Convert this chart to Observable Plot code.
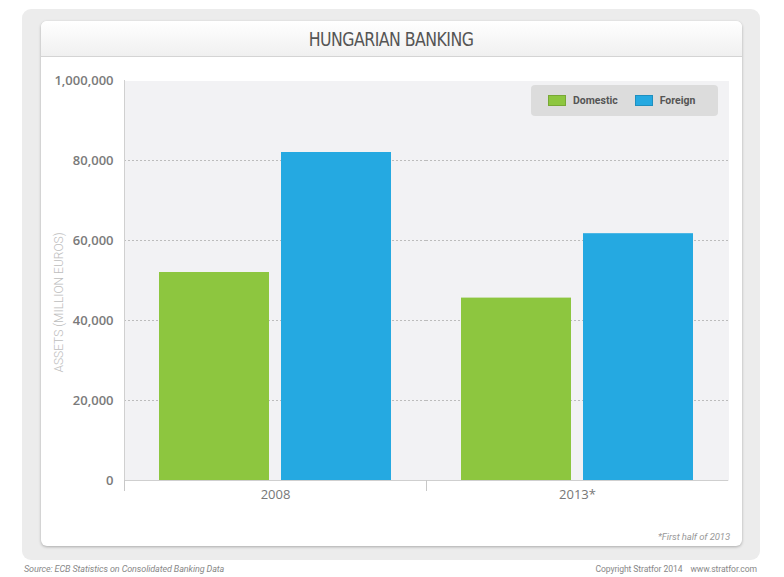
<!DOCTYPE html>
<html>
<head>
<meta charset="utf-8">
<script src="https://cdn.jsdelivr.net/npm/d3@7"></script>
<script src="https://cdn.jsdelivr.net/npm/@observablehq/plot@0.6"></script>
<style>
  html, body { margin: 0; padding: 0; background: #fff; width: 784px; height: 577px; overflow: hidden; font-family: "Open Sans", sans-serif; }
  #outer { position: absolute; left: 22px; top: 9px; width: 738px; height: 551px; background: #ececec; border-radius: 9px; }
  #card { position: absolute; left: 41px; top: 21px; width: 701px; height: 525px; background: #fff; border-radius: 6px; box-shadow: 0 1px 3px rgba(0,0,0,0.28); }
  #header { position: absolute; left: 41px; top: 21px; width: 701px; height: 35px; border-bottom: 1px solid #d4d4d4; background: linear-gradient(#ffffff, #f0f0f0); border-radius: 6px 6px 0 0; text-align: center; }
  #header h1 { display: inline-block; margin: 0; font: normal 20px/36px "DejaVu Sans Condensed", "DejaVu Sans", sans-serif; font-stretch: condensed; color: #555; letter-spacing: -0.6px; transform: scaleX(0.875); }
  #chart { position: absolute; left: 0; top: 0; }
  #legend { position: absolute; left: 531px; top: 85px; width: 187px; height: 31px; background: #dcdcdc; border-radius: 4px; box-sizing: border-box; padding-left: 17px; display: flex; align-items: center; font: bold 10.5px "Roboto", sans-serif; color: #555; }
  #legend .item { display: inline-flex; align-items: center; margin-right: 17px; white-space: nowrap; }
  #legend .sw { display: inline-block; width: 18px; height: 11px; margin-right: 7px; box-sizing: border-box; border: 1px solid rgba(0,0,0,0.15); }
  #note { position: absolute; right: 54px; top: 531px; font: italic 9.5px "Roboto", sans-serif; color: #999; letter-spacing: -0.1px; }
  #source { position: absolute; left: 24px; top: 564px; font: italic 9px "Roboto", sans-serif; color: #888; letter-spacing: -0.1px; }
  #copy { position: absolute; right: 27px; top: 564px; font: 8.6px "Roboto", sans-serif; color: #888; letter-spacing: -0.1px; }
</style>
</head>
<body>
<div id="outer"></div>
<div id="card"></div>
<div id="header"><h1>HUNGARIAN BANKING</h1></div>
<div id="chart"></div>
<div id="legend"></div>
<div id="note">*First half of 2013</div>
<div id="source">Source: ECB Statistics on Consolidated Banking Data</div>
<div id="copy">Copyright Stratfor 2014&nbsp;&nbsp;&nbsp; www.stratfor.com</div>
<script>
// ---- data ----
const years = ["2008", "2013*"];
const series = ["Domestic", "Foreign"];
const domestic = [52000, 45600];
const foreign = [82000, 61700];
const colors = ["#8dc63f", "#25a9e1"];
const yTicks = [0, 20000, 40000, 60000, 80000, 100000];
const yTickLabels = ["0", "20,000", "40,000", "60,000", "80,000", "1,000,000"];
const gridTicks = [20000, 40000, 60000, 80000];
const yTitle = "ASSETS (MILLION EUROS)";

const rows = [];
years.forEach((yr, i) => {
  rows.push({year: yr, series: "Domestic", value: domestic[i]});
  rows.push({year: yr, series: "Foreign", value: foreign[i]});
});
const labelMap = new Map(yTicks.map((t, i) => [t, yTickLabels[i]]));

const chart = Plot.plot({
  width: 784,
  height: 505,
  marginLeft: 123,
  marginRight: 56,
  marginTop: 80,
  marginBottom: 25,
  style: {background: "transparent", fontFamily: "'Open Sans', sans-serif", overflow: "visible"},
  fx: {domain: years, padding: 0},
  x: {domain: series, paddingInner: 0.098, paddingOuter: 0.28, axis: null},
  y: {domain: [0, 100000]},
  color: {domain: series, range: colors},
  marks: [
    Plot.frame({fill: "#f2f2f4", stroke: null, shapeRendering: "crispEdges"}),
    Plot.gridY(gridTicks, {stroke: "#bcbcbc", strokeOpacity: 1, strokeDasharray: "2,2"}),
    Plot.barY(rows, {fx: "year", x: "series", y: "value", fill: "series", inset: 0}),
    Plot.ruleY([0], {stroke: "#cfcfcf"}),
    Plot.frame({anchor: "left", facetAnchor: "left", stroke: "#d0d0d0", insetBottom: -10}),
    Plot.frame({anchor: "left", stroke: "#c8c8c8", insetTop: 400, insetBottom: -10}),
    Plot.axisY(yTicks, {tickSize: 0, tickPadding: 11, tickFormat: d => labelMap.get(d), label: null, fill: "#7a7a7a", fontSize: 13, fontWeight: 600}),
    Plot.axisFx({anchor: "bottom", tickSize: 0, tickPadding: 9, label: null, fill: "#777", fontSize: 13}),
    Plot.text([{year: years[0], t: yTitle}], {fx: "year", text: "t", frameAnchor: "left", textAnchor: "middle", rotate: -90, dx: -65, dy: 22, fill: "#bdbdbd", fontSize: 12, fontWeight: 300, fontFamily: "Roboto, sans-serif"})
  ]
});
document.getElementById("chart").append(chart);

// legend built from the same series / colour arrays
const colorScale = chart.scale("color");
const legendEl = document.getElementById("legend");
series.forEach((s, i) => {
  const item = document.createElement("span");
  item.className = "item";
  const sw = document.createElement("span");
  sw.className = "sw";
  sw.style.background = colorScale.range[i];
  item.append(sw, document.createTextNode(s));
  legendEl.append(item);
});
</script>
</body>
</html>
